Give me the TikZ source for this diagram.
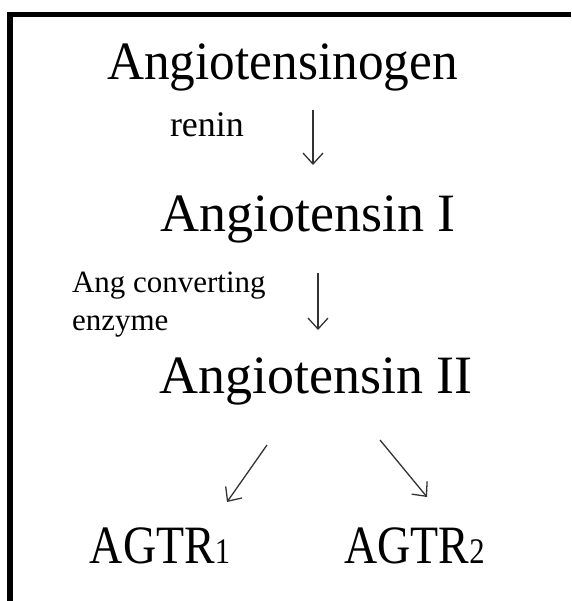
\documentclass[tikz,border=0pt]{standalone}
\usepackage{fontspec}
\setmainfont{Liberation Serif}
\usetikzlibrary{arrows.meta}
\newcommand{\bigtxt}{\fontsize{54}{60}\selectfont}
\newcommand{\smalltxt}{\fontsize{31}{36}\selectfont}
\newcommand{\renintxt}{\fontsize{36}{40}\selectfont}
\newcommand{\subdig}[1]{{\fontsize{36}{40}\selectfont #1}}
\begin{document}
\begin{tikzpicture}[x=1pt,y=-1pt,
  lbl/.style={inner sep=0pt,outer sep=0pt,anchor=base},
  lblw/.style={inner sep=0pt,outer sep=0pt,anchor=base west},
  conn/.style={line width=1.3pt,draw=black!80,-{Straight Barb[length=11pt,width=20pt,line width=1.3pt]}},
  frame/.style={line width=5.5pt,line join=miter}]
\useasboundingbox (0,0) rectangle (571,601);
\draw[frame] (10.2,601) -- (10.2,14.5) -- (571,14.5);
\node[lbl] (agen) at (282.5,80) {\bigtxt\scalebox{0.95}[1]{Angiotensinogen}};
\node[lblw] (renin) at (170,137) {\renintxt renin};
\node[lbl] (ang1) at (308,232) {\bigtxt Angiotensin I};
\node[lblw] (ace1) at (72,292) {\smalltxt Ang converting};
\node[lblw] (ace2) at (72,330) {\smalltxt enzyme};
\node[lbl] (ang2) at (316,393) {\bigtxt Angiotensin II};
\node[lbl] (agtr1) at (160,563) {\bigtxt\scalebox{0.85}[1]{AGTR\subdig{1}}};
\node[lbl] (agtr2) at (414.5,563) {\bigtxt\scalebox{0.85}[1]{AGTR\subdig{2}}};
\coordinate (a1s) at (313,110);
\coordinate (a1e) at (313,165);
\coordinate (a2s) at (318,273);
\coordinate (a2e) at (318,330);
\coordinate (a3s) at (267,445);
\coordinate (a3e) at (227,502);
\coordinate (a4s) at (380,440);
\coordinate (a4e) at (427,497);
\draw[conn] (a1s) -- (a1e);
\draw[conn] (a2s) -- (a2e);
\draw[conn] (a3s) -- (a3e);
\draw[conn] (a4s) -- (a4e);
\end{tikzpicture}
\end{document}
